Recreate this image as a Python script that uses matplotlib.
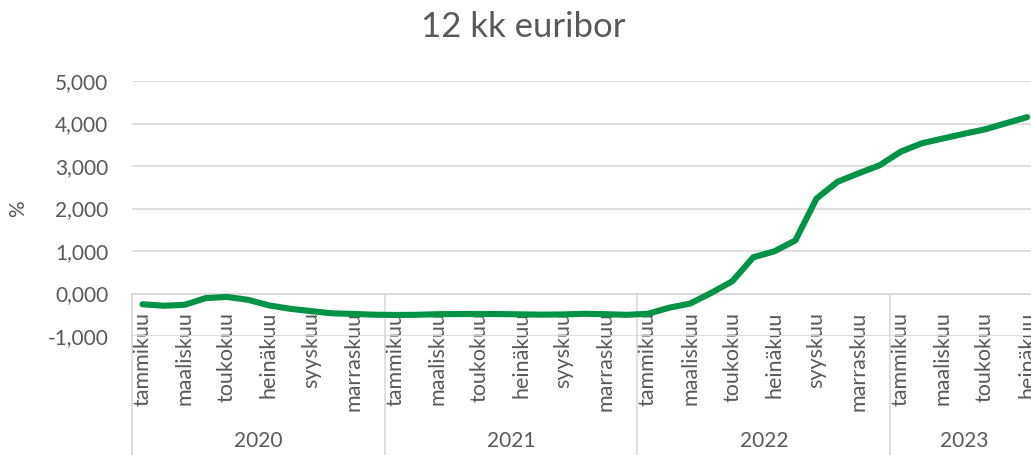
import matplotlib
matplotlib.use("Agg")
import matplotlib.pyplot as plt
from matplotlib.ticker import FuncFormatter

plt.rcParams['font.family'] = ['Lato', 'DejaVu Sans']

# Data: 12 month euribor, monthly, Jan 2020 - Jul 2023
years = ['2020', '2021', '2022', '2023']
months = ['tammikuu', 'helmikuu', 'maaliskuu', 'huhtikuu', 'toukokuu', 'kesäkuu',
          'heinäkuu', 'elokuu', 'syyskuu', 'lokakuu', 'marraskuu', 'joulukuu']
rate_2020 = [-0.253, -0.288, -0.266, -0.108, -0.081, -0.147, -0.279, -0.359, -0.415, -0.466, -0.481, -0.499]
rate_2021 = [-0.505, -0.501, -0.487, -0.484, -0.481, -0.484, -0.491, -0.498, -0.492, -0.477, -0.487, -0.502]
rate_2022 = [-0.477, -0.335, -0.237, 0.013, 0.287, 0.852, 0.992, 1.249, 2.233, 2.629, 2.828, 3.018]
rate_2023 = [3.337, 3.534, 3.647, 3.757, 3.862, 4.007, 4.149]

rates = rate_2020 + rate_2021 + rate_2022 + rate_2023
n = len(rates)
idx = list(range(n))
month_labels = [months[i % 12] for i in idx]

text_col = '#595959'
grid_col = '#d9d9d9'

fig = plt.figure(figsize=(10.31, 4.55), dpi=100)
ax = fig.add_axes([132 / 1031, 119 / 455, 905.6 / 1031, 255 / 455])

ax.plot(idx, rates, color='#009245', linewidth=4.4, solid_joinstyle='round',
        solid_capstyle='round', zorder=3)

ax.set_xlim(-0.5, n - 0.5)
ax.set_ylim(-1, 5)
ax.set_yticks(range(-1, 6))
ax.yaxis.set_major_formatter(FuncFormatter(lambda v, p: f"{v:.3f}".replace('.', ',')))
ax.grid(axis='y', color=grid_col, linewidth=1.2)
ax.set_axisbelow(True)

for s in ['top', 'right', 'left']:
    ax.spines[s].set_visible(False)
ax.spines['bottom'].set_position(('data', 0))
ax.spines['bottom'].set_color(grid_col)
ax.spines['bottom'].set_linewidth(1.2)

# month labels every second month
ax.set_xticks(idx[::2])
ax.set_xticklabels(month_labels[::2], rotation=90, va='top', ha='center')
ax.tick_params(axis='x', length=0, pad=13, labelsize=15.5, labelcolor=text_col)
ax.tick_params(axis='y', length=0, pad=17, labelsize=15, labelcolor=text_col)

# year groups with separators
trans = ax.get_xaxis_transform()
y0 = 1 / 6
for k, yr in enumerate(years):
    start = k * 12 - 0.5
    end = min(k * 12 + 11.5, n - 0.5)
    ax.plot([start, start], [y0, -0.47], color=grid_col, linewidth=1.2,
            transform=trans, clip_on=False)
    ax.text((start + end) / 2, -0.412, yr, transform=trans, ha='center', va='center',
            fontsize=15, color=text_col)

ax.set_ylabel('%', fontsize=15, color=text_col, labelpad=14)
fig.text(523 / 1031, 1 - 27 / 455, '12 kk euribor', ha='center', va='center',
         fontsize=25, color=text_col)

fig.savefig('out.png', dpi=100)
